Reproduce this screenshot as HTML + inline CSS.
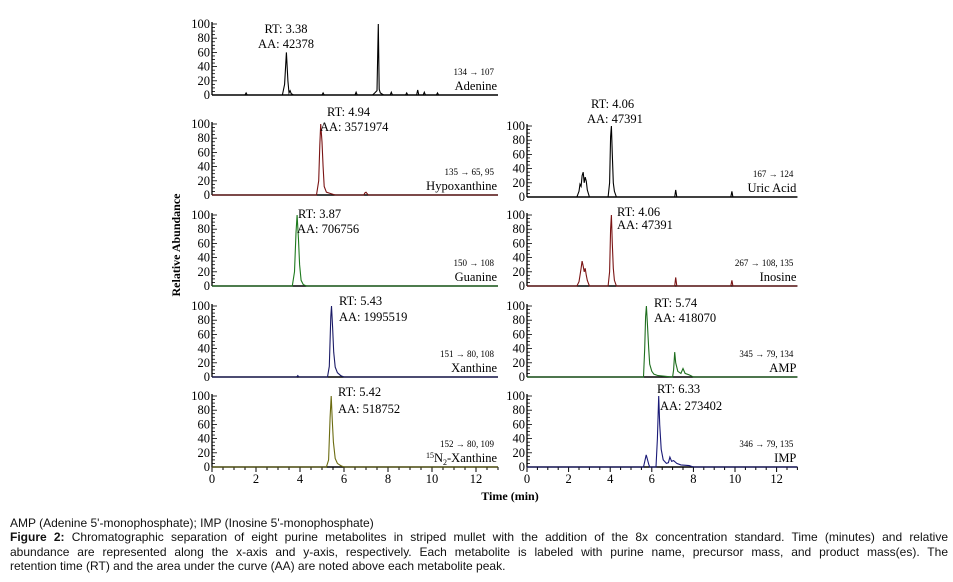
<!DOCTYPE html>
<html><head><meta charset="utf-8">
<style>
body{margin:0;background:#fff;width:953px;height:582px;overflow:hidden;position:relative;font-family:"Liberation Serif",serif;}
#cap{position:absolute;left:10px;top:516px;width:938px;font-family:"Liberation Sans",sans-serif;font-size:12px;line-height:14.3px;color:#111;}
#cap p{margin:0;white-space:nowrap;}
#cap .j{text-align:justify;text-align-last:justify;white-space:normal;}
</style></head><body>
<svg id="chart" width="953" height="510" style="position:absolute;left:0;top:0" font-family="Liberation Serif, serif"></svg>
<div id="cap">
<p>AMP (Adenine 5'-monophosphate); IMP (Inosine 5'-monophosphate)</p>
<div>
<p class="j"><b>Figure 2:</b> Chromatographic separation of eight purine metabolites in striped mullet with the addition of the 8x concentration standard. Time (minutes) and relative</p>
<p class="j">abundance are represented along the x-axis and y-axis, respectively. Each metabolite is labeled with purine name, precursor mass, and product mass(es). The</p>
<p>retention time (RT) and the area under the curve (AA) are noted above each metabolite peak.</p>
</div>
</div>
<script>
// ---- data (time in min, relative abundance %) ----
const xTicks = [0,2,4,6,8,10,12];
const yTicks = [0,20,40,60,80,100];
const adenineT = [0,1.5,1.55,1.6,3.2,3.3,3.38,3.45,3.5,3.55,3.6,3.7,5.0,5.05,5.1,6.5,6.55,6.6,7.3,7.4,7.5,7.56,7.6,7.65,7.7,7.8,8.1,8.15,8.2,8.8,8.85,8.9,9.3,9.35,9.4,9.6,9.65,9.7,10.2,10.25,10.3,13];
const adenineY = [0,0,3,0,0,15,60,20,3,6,2,0,0,3,0,0,4,0,0,3,6,100,8,3,2,0,0,4,0,0,3,0,0,7,0,0,4,0,0,3,0,0];
const hypoT = [0,4.75,4.85,4.9,4.94,5.0,5.05,5.1,5.2,5.4,5.6,6.9,6.95,7.0,7.1,13];
const hypoY = [0,0,20,70,100,75,40,12,4,2,0,0,3,4,0,0];
const guanineT = [0,3.65,3.75,3.82,3.87,3.93,3.98,4.05,4.15,4.3,13];
const guanineY = [0,0,20,75,100,65,30,8,2,0,0];
const xanthineT = [0,3.85,3.9,3.95,5.25,5.33,5.4,5.43,5.48,5.53,5.6,5.7,5.85,6.0,13];
const xanthineY = [0,0,2,0,0,15,85,100,70,35,14,6,2,0,0];
const n15T = [0,5.2,5.3,5.37,5.42,5.47,5.52,5.6,5.7,5.85,6.0,13];
const n15Y = [0,0,10,70,100,65,35,12,5,2,0,0];
const uricT = [0,2.4,2.5,2.55,2.6,2.65,2.7,2.75,2.8,2.85,2.9,3.0,3.9,3.97,4.02,4.06,4.1,4.15,4.2,4.3,7.1,7.15,7.2,9.8,9.85,9.9,13];
const uricY = [0,0,8,18,15,30,35,20,28,22,10,0,0,20,85,100,60,20,8,0,0,10,0,0,8,0,0];
const inosineT = [0,2.4,2.5,2.55,2.6,2.65,2.7,2.75,2.8,2.85,2.9,3.0,3.9,3.97,4.02,4.06,4.1,4.15,4.2,4.3,7.1,7.15,7.2,9.8,9.85,9.9,13];
const inosineY = [0,0,6,15,25,35,28,20,25,15,8,0,0,20,80,100,60,25,8,0,0,12,0,0,8,0,0];
const ampT = [0,5.6,5.66,5.7,5.74,5.79,5.85,5.9,6.0,6.1,6.3,7.0,7.05,7.1,7.15,7.25,7.4,7.5,7.6,7.8,8.0,13];
const ampY = [0,0,40,85,100,75,40,18,8,4,2,0,10,35,20,8,5,12,5,3,0,0];
const impT = [0,5.6,5.68,5.73,5.78,5.85,5.9,6.2,6.27,6.33,6.38,6.45,6.55,6.7,6.8,6.87,6.95,7.05,7.2,7.4,7.8,8.0,13];
const impY = [0,0,10,17,12,4,0,0,40,100,60,25,10,5,6,14,8,9,5,3,2,0,0];

const svg = document.getElementById('chart');
const NS = 'http://www.w3.org/2000/svg';
function mk(tag, attrs, parent){const e=document.createElementNS(NS,tag);for(const k in attrs)e.setAttribute(k,attrs[k]);(parent||svg).appendChild(e);return e;}

const panels = [
 {id:'adenine', t:adenineT, v:adenineY, x0:212, ppm:22, base:95, color:'#000', ticks:false, name:'Adenine', trans:'134 → 107', rt:['RT: 3.38',286,33,'middle'], aa:['AA: 42378',286,48,'middle']},
 {id:'hypoxanthine', t:hypoT, v:hypoY, x0:212, ppm:22, base:195, color:'#7a1414', ticks:false, name:'Hypoxanthine', trans:'135 → 65, 95', rt:['RT: 4.94',327,116,'start'], aa:['AA: 3571974',320,131,'start']},
 {id:'guanine', t:guanineT, v:guanineY, x0:212, ppm:22, base:286, color:'#1e7a1e', ticks:false, name:'Guanine', trans:'150 → 108', rt:['RT: 3.87',298,218,'start'], aa:['AA: 706756',297,233,'start']},
 {id:'xanthine', t:xanthineT, v:xanthineY, x0:212, ppm:22, base:377, color:'#1a1a66', ticks:false, name:'Xanthine', trans:'151 → 80, 108', rt:['RT: 5.43',339,305,'start'], aa:['AA: 1995519',339,321,'start']},
 {id:'n15-xanthine', t:n15T, v:n15Y, x0:212, ppm:22, base:467, color:'#6b6b10', ticks:true, name:'N15', trans:'152 → 80, 109', rt:['RT: 5.42',338,396,'start'], aa:['AA: 518752',338,413,'start']},
 {id:'uric-acid', t:uricT, v:uricY, x0:527, ppm:20.8, base:197, color:'#000', ticks:false, name:'Uric Acid', trans:'167 → 124', rt:['RT: 4.06',591,108,'start'], aa:['AA: 47391',587,123,'start']},
 {id:'inosine', t:inosineT, v:inosineY, x0:527, ppm:20.8, base:286, color:'#7a1414', ticks:false, name:'Inosine', trans:'267 → 108, 135', rt:['RT: 4.06',617,216,'start'], aa:['AA: 47391',617,229,'start']},
 {id:'amp', t:ampT, v:ampY, x0:527, ppm:20.8, base:377, color:'#1e6e1e', ticks:false, name:'AMP', trans:'345 → 79, 134', rt:['RT: 5.74',654,307,'start'], aa:['AA: 418070',654,322,'start']},
 {id:'imp', t:impT, v:impY, x0:527, ppm:20.8, base:467, color:'#1a1a77', ticks:true, name:'IMP', trans:'346 → 79, 135', rt:['RT: 6.33',657,393,'start'], aa:['AA: 273402',660,410,'start']}
];
const YS = 0.71;

panels.forEach(p=>{
  const xs = t=>p.x0 + t*p.ppm;
  const ys = v=>p.base - v*YS;
  const g = mk('g',{});
  
  
  const xEnd = xs(13);
  const ya = mk('line',{x1:p.x0,y1:ys(100)-2,x2:p.x0,y2:p.base,stroke:'#000','stroke-width':1.3},g);
  
  
  const xa = mk('line',{x1:p.x0,y1:p.base,x2:xEnd,y2:p.base,stroke:'#000','stroke-width':1.6},g);
  
  
  for(let v=0; v<=100; v+=5){
    const major = v%20===0;
    mk('line',{x1:p.x0,y1:ys(v),x2:p.x0+(major?5:3),y2:ys(v),stroke:'#000','stroke-width':0.8},g);
  }
  yTicks.forEach(v=>{
    const tl = mk('text',{x:p.x0-2,y:ys(v)+4,'font-size':12.5,'text-anchor':'end'},g);
    tl.textContent = v;
    
    
  });
  if(p.ticks){
    for(let t=0;t<=13;t+=0.5){
      const major = t%2===0;
      mk('line',{x1:xs(t),y1:p.base,x2:xs(t),y2:p.base+(major?5:3),stroke:'#000','stroke-width':1},g);
    }
    xTicks.forEach(t=>{
      const tl = mk('text',{x:xs(t),y:p.base+16,'font-size':12.5,'text-anchor':'middle'},g);
      tl.textContent = t;
      
      
    });
  }
  const pts = p.t.map((t,i)=>xs(t).toFixed(1)+','+ys(p.v[i]).toFixed(1)).join(' ');
  const tr = mk('polyline',{points:pts,fill:'none',stroke:p.color,'stroke-width':1.1},g);
  
  
  const rt = mk('text',{x:p.rt[1],y:p.rt[2],'font-size':12.5,'text-anchor':p.rt[3]},g);
  rt.textContent = p.rt[0];
  
  
  const aa = mk('text',{x:p.aa[1],y:p.aa[2],'font-size':12.5,'text-anchor':p.aa[3]},g);
  aa.textContent = p.aa[0];
  
  
  const tx = mk('text',{x:xEnd-4,y:p.base-20,'font-size':9,'text-anchor':'end'},g);
  tx.textContent = p.trans;
  
  
  const nm = mk('text',{x:xEnd-1,y:p.base-5,'font-size':12.5,'text-anchor':'end'},g);
  if(p.name==='N15'){
    const s1 = mk('tspan',{'font-size':8,dy:-4},nm); s1.textContent='15';
    const s2 = mk('tspan',{dy:4},nm); s2.textContent='N';
    const s3 = mk('tspan',{'font-size':8,dy:3},nm); s3.textContent='2';
    const s4 = mk('tspan',{dy:-3},nm); s4.textContent='-Xanthine';
  } else { nm.textContent = p.name; }
  
  
});

const yt = mk('text',{x:0,y:0,'font-size':12,'font-weight':'bold','text-anchor':'middle',transform:'translate(180,245) rotate(-90)'});
yt.textContent = 'Relative Abundance';


const xt = mk('text',{x:510,y:500,'font-size':12,'font-weight':'bold','text-anchor':'middle'});
xt.textContent = 'Time (min)';


</script>
</body></html>
